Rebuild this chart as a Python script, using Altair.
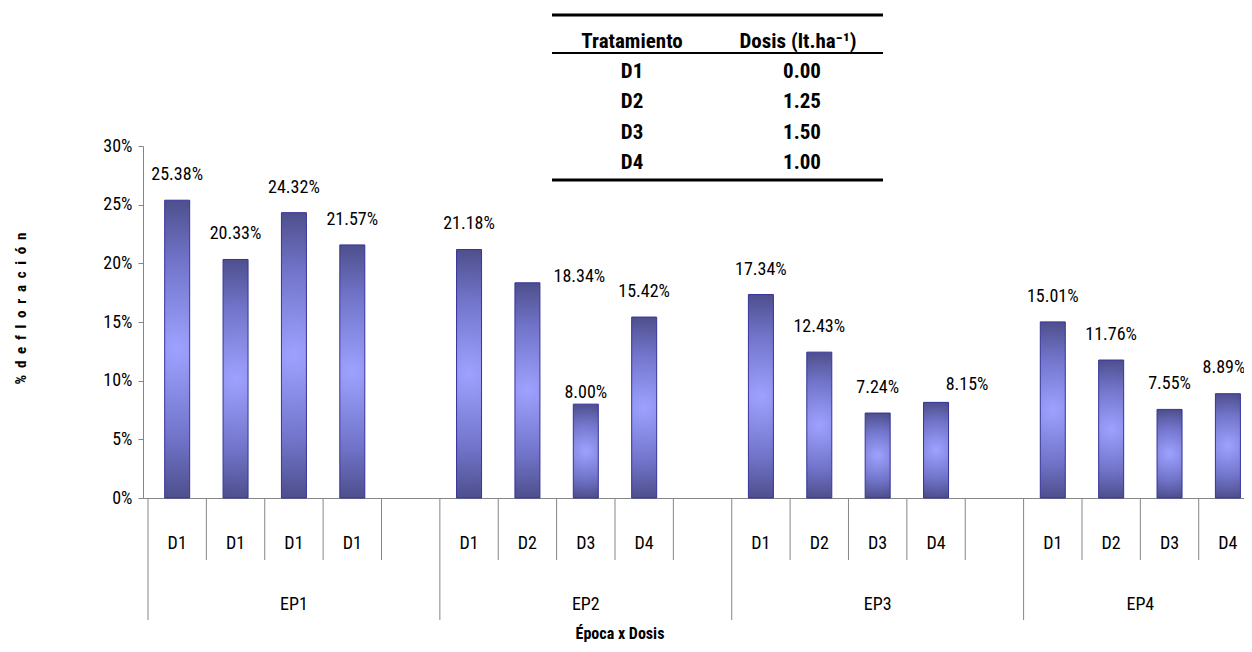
import altair as alt
import pandas as pd

# ---------------- data ----------------
groups = ["EP1", "EP2", "EP3", "EP4"]
doses = [
    ["D1", "D1", "D1", "D1"],
    ["D1", "D2", "D3", "D4"],
    ["D1", "D2", "D3", "D4"],
    ["D1", "D2", "D3", "D4"],
]
values = [
    [25.38, 20.33, 24.32, 21.57],
    [21.18, 18.34, 8.00, 15.42],
    [17.34, 12.43, 7.24, 8.15],
    [15.01, 11.76, 7.55, 8.89],
]
group_slots = [5, 5, 5, 4]   # category slots per group (empty slot after a group)

treatments = ["D1", "D2", "D3", "D4"]
dose_rates = ["0.00", "1.25", "1.50", "1.00"]

# manual label nudges (Excel-moved labels), px
label_nudge = {("EP2", 1): (52, -6), ("EP2", 2): (0, -11), ("EP3", 3): (31, -17),
               ("EP4", 3): (-4, -26)}
DEFAULT_NUDGE = (0, -25)

NARROW = "Roboto Condensed, Roboto, sans-serif"
AX = "#868686"
FS = 18

# ---------------- tables ----------------
rows, bounds, grp_rows = [], [], []
start = 0
for gi, g in enumerate(groups):
    for j, (d, v) in enumerate(zip(doses[gi], values[gi])):
        dx, dy = label_nudge.get((g, j), DEFAULT_NUDGE)
        rows.append({"grupo": g, "dosis": d, "valor": v, "slot": start + j + 0.5,
                     "lbl": f"{v:.2f}%", "dx": dx, "dy": dy})
    for b in range(group_slots[gi]):
        bounds.append({"b": start + b, "long": b == 0})
    grp_rows.append({"grupo": g, "c": start + group_slots[gi] / 2})
    start += group_slots[gi]

df = pd.DataFrame(rows)
df_b = pd.DataFrame(bounds)
df_g = pd.DataFrame(grp_rows)
df_t = pd.DataFrame({"trat": treatments, "dosis": dose_rates, "row": range(len(treatments))})

W, H = 1101, 352
xscale = alt.Scale(domain=[0, 18.69], nice=False, zero=False)
yscale = alt.Scale(domain=[0, 30], nice=False)

grad = alt.Gradient(
    gradient="radial",
    stops=[
        alt.GradientStop(offset=0, color="#9ea2ff"),
        alt.GradientStop(offset=0.55, color="#7073c8"),
        alt.GradientStop(offset=1, color="#46467e"),
    ],
    x1=0.5, y1=0.5, x2=0.5, y2=0.5, r1=0, r2=0.55,
)

ytitle = "\u2002".join(list("%") + list("de") + list("floración"))

bars = alt.Chart(df).mark_bar(size=25, color=grad, stroke="#34349a", strokeWidth=1).encode(
    x=alt.X("slot:Q", scale=xscale,
            axis=alt.Axis(labels=False, ticks=False, grid=False, title=None, domainColor=AX)),
    y=alt.Y("valor:Q", scale=yscale,
            axis=alt.Axis(values=[0, 5, 10, 15, 20, 25, 30], labelExpr="datum.value + '%'",
                          grid=False, tickSize=5, tickColor=AX, domainColor=AX,
                          labelFont=NARROW, labelFontSize=FS, labelColor="#000",
                          labelPadding=6,
                          title=ytitle,
                          titleFont=NARROW, titleFontWeight="bold", titleFontSize=15,
                          titleColor="#000", titleX=-123, titleY=162, titleAngle=270,
                          titleAlign="center", titleBaseline="middle")),
)

label_layers = []
for (dx, dy), sub in df.groupby(["dx", "dy"]):
    label_layers.append(
        alt.Chart(sub).mark_text(font=NARROW, fontSize=FS, color="#000", dx=int(dx), dy=int(dy),
                                 baseline="middle").encode(
            x=alt.X("slot:Q", scale=xscale), y=alt.Y("valor:Q", scale=yscale), text="lbl:N")
    )

short_ticks = alt.Chart(df_b[~df_b["long"]]).mark_rule(color=AX).encode(
    x=alt.X("b:Q", scale=xscale), y=alt.value(H), y2=alt.value(H + 62))
long_ticks = alt.Chart(df_b[df_b["long"]]).mark_rule(color=AX).encode(
    x=alt.X("b:Q", scale=xscale), y=alt.value(H), y2=alt.value(H + 122))

dose_lbl = alt.Chart(df).mark_text(font=NARROW, fontSize=FS, color="#000", baseline="middle").encode(
    x=alt.X("slot:Q", scale=xscale), y=alt.value(H + 46), text="dosis:N")
grp_lbl = alt.Chart(df_g).mark_text(font=NARROW, fontSize=FS, color="#000", baseline="middle").encode(
    x=alt.X("c:Q", scale=xscale), y=alt.value(H + 107), text="grupo:N")

x_title = alt.Chart(pd.DataFrame({"t": ["Época x Dosis"]})).mark_text(
    font=NARROW, fontSize=16, fontWeight="bold", color="#000", baseline="middle").encode(
    x=alt.value(477), y=alt.value(H + 136), text="t:N")

main = alt.layer(bars, *label_layers, short_ticks, long_ticks, dose_lbl, grp_lbl, x_title)

# ---------------- inset table ----------------
TX0, TX1 = 409, 740
TFS = 21
one = pd.DataFrame({"k": [0]})
tbl_lines = alt.layer(
    alt.Chart(one).mark_rule(color="#000", strokeWidth=3).encode(
        x=alt.value(TX0), x2=alt.value(TX1), y=alt.value(-131)),
    alt.Chart(one).mark_rule(color="#000", strokeWidth=2).encode(
        x=alt.value(TX0), x2=alt.value(TX1), y=alt.value(-93)),
    alt.Chart(one).mark_rule(color="#000", strokeWidth=3).encode(
        x=alt.value(TX0), x2=alt.value(TX1), y=alt.value(34)),
)
hdr = pd.DataFrame({"h": ["Tratamiento", "Dosis (lt.ha⁻¹)"], "k": [0, 1]})
tbl_hdr = alt.layer(
    alt.Chart(hdr[hdr.k == 0]).mark_text(font=NARROW, fontSize=TFS, fontWeight="bold", color="#000",
                                          baseline="middle").encode(
        x=alt.value(489), y=alt.value(-104), text="h:N"),
    alt.Chart(hdr[hdr.k == 1]).mark_text(font=NARROW, fontSize=TFS, fontWeight="bold", color="#000",
                                          baseline="middle").encode(
        x=alt.value(655), y=alt.value(-104), text="h:N"),
)
trow_scale = alt.Scale(domain=[0, 3], range=[-74, 17], nice=False, zero=False)
tbl_rows = alt.layer(
    alt.Chart(df_t).mark_text(font=NARROW, fontSize=TFS, fontWeight="bold", color="#000",
                              baseline="middle").encode(
        x=alt.value(489), y=alt.Y("row:Q", scale=trow_scale, axis=None), text="trat:N"),
    alt.Chart(df_t).mark_text(font=NARROW, fontSize=TFS, fontWeight="bold", color="#000",
                              baseline="middle").encode(
        x=alt.value(659), y=alt.Y("row:Q", scale=trow_scale, axis=None), text="dosis:N"),
)

chart = alt.layer(main, tbl_lines, tbl_hdr, tbl_rows).resolve_scale(y="independent").properties(
    width=W, height=H,
    padding={"left": 135, "top": 138, "right": 0, "bottom": 146},
    autosize=alt.AutoSizeParams(type="none"),
).configure_view(stroke=None)

chart.save("out.html", embed_options={"renderer": "svg", "actions": False})
